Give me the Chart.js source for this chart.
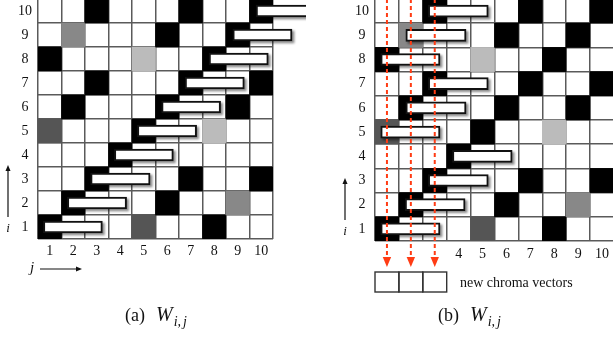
<!DOCTYPE html>
<html>
<head>
<meta charset="utf-8">
<script src="https://cdn.jsdelivr.net/npm/chart.js@4.4.0/dist/chart.umd.min.js"></script>
<style>
  html, body { margin: 0; padding: 0; background: #fff; overflow: hidden; }
  body { width: 613px; height: 337px; position: relative; }
  .panel { position: absolute; top: -1px; height: 338px; }
  #panelA { left: 0; width: 306px; }
  #panelB { left: 306px; width: 308px; }
</style>
</head>
<body>
<div class="panel" id="panelA"><canvas id="chartA"></canvas></div>
<div class="panel" id="panelB"><canvas id="chartB"></canvas></div>
<script>
const rowLabels = ['1', '2', '3', '4', '5', '6', '7', '8', '9', '10'];
const colLabels = ['1', '2', '3', '4', '5', '6', '7', '8', '9', '10'];

// cell shade per row, row 1 first: 0 white, 1 black, 2 dark grey, 3 grey, 4 light grey
const cellRows = [
  [1, 0, 0, 0, 2, 0, 0, 1, 0, 0],
  [0, 1, 0, 0, 0, 1, 0, 0, 3, 0],
  [0, 0, 1, 0, 0, 0, 1, 0, 0, 1],
  [0, 0, 0, 1, 0, 0, 0, 0, 0, 0],
  [2, 0, 0, 0, 1, 0, 0, 4, 0, 0],
  [0, 1, 0, 0, 0, 1, 0, 0, 1, 0],
  [0, 0, 1, 0, 0, 0, 1, 0, 0, 1],
  [1, 0, 0, 0, 4, 0, 0, 1, 0, 0],
  [0, 3, 0, 0, 0, 1, 0, 0, 1, 0],
  [0, 0, 1, 0, 0, 0, 1, 0, 0, 1]
];

// white windows, start / end in column units (row 1 first)
const winStartA = [0.73, 1.75, 2.74, 3.75, 4.73, 5.76, 6.76, 7.78, 8.79, 9.78];
const winEndA   = [3.24, 4.27, 5.27, 6.26, 7.25, 8.27, 9.28, 10.3, 11.31, 12.33];
const winStartB = [0.74, 1.76, 2.73, 3.74, 0.74, 1.79, 2.73, 0.74, 1.79, 2.73];
const winEndB   = [3.22, 4.27, 5.24, 6.24, 3.22, 4.31, 5.24, 3.22, 4.31, 5.24];

const arrowColsB = [1, 2, 3];
const shownColsB = ['4', '5', '6', '7', '8', '9', '10'];

const shades = { 1: '#000000', 2: '#555555', 3: '#888888', 4: '#bbbbbb' };
const SERIF = '"Liberation Serif", "Times New Roman", serif';
const GRID = '#5a5a5a';

function cellData() {
  const pts = [], fills = [];
  cellRows.forEach((row, i) => row.forEach((code, j) => {
    if (!code) return;
    pts.push({ y: rowLabels[i], x: [j + 0.5, j + 1.5] });
    fills.push(shades[code]);
  }));
  return { pts, fills };
}

// shadow under the white windows
const shadowPlugin = {
  id: 'winShadow',
  beforeDatasetDraw(chart, args) {
    if (!chart.data.datasets[args.index].isShadow) return;
    const c = chart.ctx;
    c.save();
    c.translate(2, 2);
    c.filter = 'blur(1px)';
  },
  afterDatasetDraw(chart, args) {
    if (chart.data.datasets[args.index].isShadow) chart.ctx.restore();
  }
};

function arrowLine(c, x1, y1, x2, y2, head, color, width, dash) {
  c.save();
  c.strokeStyle = color;
  c.fillStyle = color;
  c.lineWidth = width;
  c.setLineDash(dash || []);
  const a = Math.atan2(y2 - y1, x2 - x1);
  const bx = x2 - head * Math.cos(a), by = y2 - head * Math.sin(a);
  c.beginPath(); c.moveTo(x1, y1); c.lineTo(bx, by); c.stroke();
  c.setLineDash([]);
  const w = head * 0.42;
  c.beginPath();
  c.moveTo(x2, y2);
  c.lineTo(bx + w * Math.sin(a), by - w * Math.cos(a));
  c.lineTo(bx - w * Math.sin(a), by + w * Math.cos(a));
  c.closePath(); c.fill();
  c.restore();
}

function caption(c, tag, x, y) {
  c.save();
  c.fillStyle = '#111';
  c.textBaseline = 'alphabetic';
  c.textAlign = 'left';
  c.font = '18px ' + SERIF;
  c.fillText(tag, x, y);
  x += c.measureText(tag).width + 11;
  c.font = 'italic 20px ' + SERIF;
  c.fillText('W', x, y);
  x += c.measureText('W').width + 1;
  c.font = 'italic 14px ' + SERIF;
  c.fillText('i', x, y + 5);
  x += c.measureText('i').width;
  c.fillText(',', x, y + 5);
  x += c.measureText(',').width + 2;
  c.fillText('j', x, y + 5);
  c.restore();
}

function italicText(c, s, x, y, size) {
  c.save();
  c.fillStyle = '#111';
  c.font = 'italic ' + size + 'px ' + SERIF;
  c.textAlign = 'center';
  c.textBaseline = 'alphabetic';
  c.fillText(s, x, y);
  c.restore();
}

const decoA = {
  id: 'decoA',
  afterDraw(chart) {
    const c = chart.ctx;
    arrowLine(c, 8, 218, 8, 166, 6, '#111', 1.2);
    italicText(c, 'i', 8, 233, 13);
    italicText(c, 'j', 32, 273, 15);
    arrowLine(c, 40, 270, 82, 270, 6, '#111', 1.2);
    caption(c, '(a)', 125, 322);
  }
};

const decoB = {
  id: 'decoB',
  afterDraw(chart) {
    const c = chart.ctx;
    const x = chart.scales.x;
    const area = chart.chartArea;
    arrowLine(c, 39, 221, 39, 179, 6, '#111', 1.2);
    italicText(c, 'i', 39, 236, 13);
    arrowColsB.forEach(col => {
      const px = x.getPixelForValue(col);
      arrowLine(c, px, area.top, px, area.bottom + 26, 10, '#ff3c14', 2, [4, 3]);
    });
    // new chroma vector boxes under the arrowed columns
    c.save();
    c.strokeStyle = '#333';
    c.lineWidth = 1.4;
    arrowColsB.forEach(col => {
      const l = x.getPixelForValue(col - 0.5), r = x.getPixelForValue(col + 0.5);
      c.strokeRect(l, area.bottom + 31, r - l, 20);
    });
    c.fillStyle = '#111';
    c.font = '14px ' + SERIF;
    c.textBaseline = 'alphabetic';
    c.fillText('new chroma vectors', 154, 288);
    c.restore();
    caption(c, '(b)', 132, 322);
  }
};

function makeChart(id, winStart, winEnd, yWidth, xHeight, rightPad, xPad, xTickLabel, deco) {
  const cells = cellData();
  const wins = rowLabels.map((r, i) => ({ y: r, x: [winStart[i], winEnd[i]] }));
  return new Chart(document.getElementById(id), {
    type: 'bar',
    data: {
      labels: rowLabels.slice().reverse(),
      datasets: [
        {
          data: wins,
          backgroundColor: '#ffffff',
          borderColor: '#111111',
          borderWidth: 2,
          borderSkipped: false,
          barThickness: 12,
          grouped: false,
          clip: false,
          order: 1
        },
        {
          data: wins,
          isShadow: true,
          backgroundColor: 'rgba(0,0,0,0.45)',
          borderWidth: 0,
          barThickness: 12,
          grouped: false,
          clip: false,
          order: 2
        },
        {
          data: cells.pts,
          backgroundColor: cells.fills,
          borderWidth: 0,
          categoryPercentage: 1,
          barPercentage: 1,
          grouped: false,
          order: 3
        }
      ]
    },
    options: {
      indexAxis: 'y',
      animation: false,
      responsive: true,
      maintainAspectRatio: false,
      devicePixelRatio: 1,
      events: [],
      layout: { padding: { left: 0, right: rightPad, top: 0, bottom: 0 } },
      plugins: { legend: { display: false }, tooltip: { enabled: false } },
      scales: {
        x: {
          type: 'linear',
          min: 0.5,
          max: 10.5,
          afterBuildTicks: s => { s.ticks = colLabels.map((_, k) => ({ value: k + 1 })); },
          afterFit: s => { s.height = xHeight; s.paddingLeft = 0; s.paddingRight = 0; },
          grid: { offset: true, color: GRID, lineWidth: 1.5, drawTicks: false },
          border: { display: false },
          ticks: {
            autoSkip: false,
            maxRotation: 0,
            padding: xPad,
            color: '#111',
            font: { family: SERIF, size: 14 },
            callback: (v, k) => xTickLabel(colLabels[k])
          }
        },
        y: {
          type: 'category',
          offset: true,
          afterFit: s => { s.width = yWidth; s.paddingTop = 0; s.paddingBottom = 0; },
          grid: { offset: true, color: GRID, lineWidth: 1.5, drawTicks: false },
          border: { display: false },
          ticks: {
            crossAlign: 'center',
            padding: 6,
            color: '#111',
            font: { family: SERIF, size: 14 }
          }
        }
      }
    },
    plugins: [shadowPlugin, deco]
  });
}

makeChart('chartA', winStartA, winEndA, 38, 98, 33, 4, lab => lab, decoA);
makeChart('chartB', winStartB, winEndB, 69, 96, 0, 5,
  lab => shownColsB.includes(lab) ? lab : '', decoB);
</script>
</body>
</html>
